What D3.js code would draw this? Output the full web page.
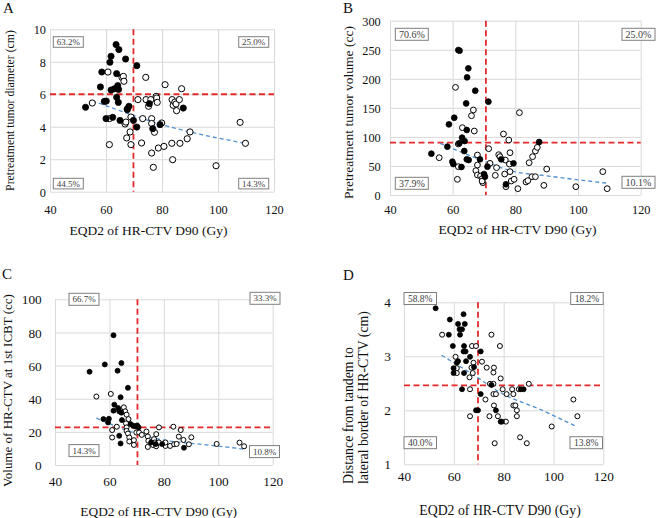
<!DOCTYPE html>
<html>
<head>
<meta charset="utf-8">
<script src="https://cdn.jsdelivr.net/npm/d3@7"></script>
<style>
  html, body { margin: 0; padding: 0; background: #fff; }
  svg { display: block; font-family: "Liberation Serif", "Times New Roman", serif; }
</style>
</head>
<body>
<svg id="chart" width="659" height="518"></svg>
<script>
// ---------------- DATA ----------------
const xTicks = [40, 60, 80, 100, 120];
const xTitle = "EQD2 of HR-CTV D90 (Gy)";

// Panel A: pretreatment tumor diameter (cm)
const aYTicks = [0, 2, 4, 6, 8, 10];
const aYTitle = ["Pretreatment tumor diameter (cm)"];
const aThreshold = [69.8, 6.0];
const aQuadLabels = ["63.2%", "25.0%", "44.5%", "14.3%"];
const aFilled = [[52.7,5.2],[58.0,6.45],[58.5,7.37],[59.4,5.56],[60.1,5.58],[60.0,4.5],[61.4,7.97],[61.8,8.34],[61.8,6.26],[62.4,4.58],[63.0,6.34],[63.6,9.06],[63.8,7.27],[63.8,5.81],[64.2,6.53],[64.5,6.3],[64.4,5.5],[64.6,8.75],[65.0,4.39],[67.0,8.17],[67.6,5.05],[68.2,5.26],[69.8,4.39],[71.0,7.76],[71.0,3.98],[75.5,5.42],[76.7,3.88],[79.3,4.13],[87.6,5.15]];
const aOpen = [[55.1,5.46],[60.7,7.37],[61.2,4.5],[61.2,2.9],[65.7,7.04],[66.2,7.1],[66.4,6.8],[66.8,4.17],[67.1,4.29],[67.4,3.31],[67.6,5.1],[68.6,3.68],[68.9,2.9],[68.9,4.6],[71.4,5.67],[72.7,3.0],[73.1,4.5],[74.2,7.04],[74.3,5.67],[75.2,5.26],[76.0,5.67],[76.3,4.5],[76.3,4.2],[76.3,2.38],[76.9,1.5],[77.3,3.66],[77.9,5.87],[78.1,5.77],[78.3,5.5],[78.7,2.69],[79.9,4.23],[80.7,2.79],[81.1,6.59],[83.5,2.98],[83.6,5.67],[83.8,1.97],[84.0,5.32],[84.6,5.52],[85.0,5.4],[85.2,4.99],[86.2,5.67],[86.4,2.98],[87.0,6.34],[89.0,3.26],[90.0,3.68],[99.3,1.6],[107.9,4.27],[109.8,2.98]];
const aTrend = [[55.1,5.6],[69.8,4.7],[79.5,4.15],[90.0,3.68],[109.8,2.98]];

// Panel B: pretreatment tumor volume (cc)
const bYTicks = [0, 50, 100, 150, 200, 250, 300];
const bYTitle = ["Pretreatment tumor volume (cc)"];
const bThreshold = [70.6, 90];
const bQuadLabels = ["70.6%", "25.0%", "37.9%", "10.1%"];
const bFilled = [[53.2,71.1],[58.3,83.2],[58.8,121.6],[59.9,57.4],[60.2,53.3],[60.5,133],[61.8,249.5],[62.1,88.9],[62.2,248.4],[62.8,48.2],[63.0,98.7],[63.7,75.7],[63.8,92.9],[64.3,157.7],[64.5,111.9],[64.5,61.4],[64.6,202.5],[65.0,218],[65.1,60.2],[67.2,179.5],[68.7,61.4],[70.0,36.1],[70.3,31.5],[71.1,48.8],[71.4,160.6],[75.5,61.4],[77.0,18.4],[79.4,54.5],[87.6,91.2]];
const bOpen = [[55.7,64.2],[60.9,185.3],[61.5,27],[61.8,87.8],[61.8,48.8],[63.1,115.9],[66.0,136.5],[66.6,146.3],[66.9,110.1],[67.4,41.9],[67.9,68.8],[67.9,51.6],[67.9,34.4],[68.9,32.7],[69.4,28.1],[69.6,21.2],[69.4,24],[71.5,79.7],[71.9,54.5],[73.6,33.8],[74.0,47],[74.7,69.4],[75.1,66],[76.2,105],[76.6,36.1],[76.8,60.2],[77.0,14.3],[77.9,94.6],[78.1,53.3],[78.3,72.8],[78.3,40.2],[78.7,24.1],[79.6,27],[80.8,10.9],[81.3,141.7],[83.4,22.4],[84.0,24.7],[84.4,55.6],[85.3,31.5],[85.5,66],[86.4,75.7],[86.4,31.5],[87.0,82],[89.1,16.6],[90.0,44.7],[99.3,14.3],[107.9,40.2],[109.3,10.9]];
const bTrend = [[56.0,88.9],[70.6,57],[78.3,42],[90.0,33],[109.7,20.1]];

// Panel C: volume of HR-CTV at 1st ICBT (cc)
const cYTicks = [0, 20, 40, 60, 80, 100];
const cYTitle = ["Volume of HR-CTV at 1st ICBT (cc)"];
const cThreshold = [70.3, 22.7];
const cQuadLabels = ["66.7%", "33.3%", "14.3%", "10.8%"];
const cFilled = [[52.7,56.3],[57.8,27.7],[58.3,60.7],[59.5,25.7],[59.8,27.9],[61.5,78.3],[61.5,32.8],[61.8,36.4],[63.0,56.9],[63.2,34.4],[63.6,32.4],[63.6,17.6],[64.1,40.9],[64.1,13.0],[64.4,61.5],[64.4,31.6],[64.6,27.1],[66.8,46.6],[67.8,24.7],[68.7,23.7],[69.5,23.3],[70.2,23.9],[70.7,22.7],[75.3,13.6],[77.0,12.6],[79.4,12.6],[87.4,10.4]];
const cOpen = [[55.2,41.3],[60.5,42.9],[61.0,21.1],[61.0,16.6],[62.7,23.1],[65.3,34.8],[65.8,32.4],[66.3,30.4],[67.0,27.7],[66.1,25.1],[66.3,22.7],[66.3,20.6],[66.8,19.0],[67.3,16.6],[67.3,14.2],[69.0,15.0],[69.0,12.1],[69.9,19.6],[70.9,19.6],[71.9,18.2],[73.6,20.2],[74.1,17.2],[74.1,10.9],[74.3,14.6],[76.0,12.1],[76.4,15.6],[76.7,13.6],[77.2,18.6],[77.2,11.3],[78.2,22.7],[78.2,13.6],[80.6,11.5],[80.6,13.6],[82.3,11.5],[83.5,23.1],[83.8,12.5],[84.7,12.7],[85.5,17.1],[86.2,21.1],[87.2,15.1],[89.2,12.5],[90.1,16.7],[99.4,12.7],[107.8,13.5],[109.5,11.3]];
const cTrend = [[55.2,28.3],[65.0,21.7],[80.0,15.0],[95.0,12.3],[109.9,9.5]];

// Panel D: distance from tandem to lateral border of HR-CTV (cm)
const dYTicks = [1, 2, 3, 4];
const dYTitle = ["Distance from tandem to", "lateral border of HR-CTV (cm)"];
const dThreshold = [69.7, 2.46];
const dQuadLabels = ["58.8%", "18.2%", "40.0%", "13.8%"];
const dFilled = [[52.7,3.89],[58.0,3.40],[58.4,3.68],[59.6,3.19],[59.9,2.78],[59.9,2.69],[61.2,2.88],[61.7,3.60],[61.7,2.91],[62.3,3.50],[62.5,3.40],[63.3,3.50],[63.3,2.39],[63.9,3.78],[63.9,3.09],[64.1,3.19],[64.1,2.69],[64.4,3.60],[64.7,3.09],[64.9,2.91],[66.5,2.99],[68.1,2.80],[68.9,2.00],[69.7,2.00],[70.8,3.09],[70.8,2.30],[75.1,2.47],[76.9,2.00],[78.8,1.79],[79.3,1.79],[86.9,2.39],[88.0,2.39]];
const dOpen = [[55.3,3.40],[60.7,2.99],[61.2,2.78],[61.2,2.69],[66.3,2.61],[66.5,2.39],[66.5,1.89],[67.1,2.79],[67.3,3.19],[67.6,2.69],[67.9,2.88],[68.9,3.19],[71.3,2.90],[72.7,2.20],[73.2,2.79],[74.3,1.89],[74.5,2.49],[75.1,3.40],[75.9,2.70],[75.9,2.49],[75.9,2.30],[76.1,2.79],[76.1,2.09],[76.4,1.39],[76.9,2.30],[77.7,1.89],[78.5,3.19],[78.8,2.59],[79.6,2.39],[80.9,1.79],[81.2,2.30],[83.4,2.39],[83.9,2.30],[83.9,2.09],[84.7,2.09],[85.3,2.00],[85.3,1.89],[86.1,2.39],[86.6,1.50],[89.3,1.39],[90.1,2.49],[99.3,1.70],[108.0,2.20],[109.6,1.89]];
const dTrend = [[55.1,3.02],[69.7,2.6],[78.6,2.33],[95.0,2.01],[109.6,1.69]];

// ---------------- LAYOUT ----------------
const panels = [
  { letter: "A", lx: 3, ly: 13, plot: [50, 274, 29.3, 191.7], yDom: [0, 10], yTicks: aYTicks,
    yTitle: aYTitle, thr: aThreshold, quad: aQuadLabels, filled: aFilled, open: aOpen, trend: aTrend,
    tickFs: 12.3, yTickX: 46, xTickY: 209.5, xTitleFs: 13.5, xTitleX: 148.5, xTitleY: 230,
    yTitleFs: 11.8, yTitleX: [10], yTitleY: 110.5, yTitleAnchor: "middle", r: 3.1,
    boxes: [[53.3, 36.7], [238.7, 36.7], [53.3, 178.3], [238.7, 178.3]], boxW: 30, boxH: 10.6, boxFs: 9 },
  { letter: "B", lx: 343, ly: 13, plot: [390, 640.7, 20.7, 195], yDom: [0, 300], yTicks: bYTicks,
    yTitle: bYTitle, thr: bThreshold, quad: bQuadLabels, filled: bFilled, open: bOpen, trend: bTrend,
    tickFs: 12.3, yTickX: 380.7, xTickY: 210, xTitleFs: 13.5, xTitleX: 517.5, xTitleY: 229,
    yTitleFs: 13.5, yTitleX: [348], yTitleY: 112.5, yTitleAnchor: "middle", r: 2.9,
    boxes: [[395.3, 28.3], [622, 28.3], [395.3, 177.3], [622, 176.3]], boxW: 33, boxH: 12, boxFs: 10 },
  { letter: "C", lx: 2, ly: 279, plot: [55, 272.7, 299.3, 465], yDom: [0, 100], yTicks: cYTicks,
    yTitle: cYTitle, thr: cThreshold, quad: cQuadLabels, filled: cFilled, open: cOpen, trend: cTrend,
    tickFs: 13.3, yTickX: 41.7, xTickY: 481.7, xTitleFs: 13.4, xTitleX: 158.7, xTitleY: 511.7,
    yTitleFs: 13, yTitleX: [7.5], yTitleY: 390.5, yTitleAnchor: "middle", r: 2.5,
    boxes: [[69, 293.3], [250, 292.3], [69, 444.6], [249.5, 445.6]], boxW: 30, boxH: 12, boxFs: 9 },
  { letter: "D", lx: 343, ly: 280, plot: [404, 603.3, 302.3, 464.3], yDom: [1, 4], yTicks: dYTicks,
    yTitle: dYTitle, thr: dThreshold, quad: dQuadLabels, filled: dFilled, open: dOpen, trend: dTrend,
    tickFs: 13.3, yTickX: 391, xTickY: 476.7, xTitleFs: 13.8, xTitleX: 500, xTitleY: 510,
    yTitleFs: 13.8, yTitleX: [348.3, 363.5], yTitleY: 484, yTitleAnchor: "start", r: 2.5,
    boxes: [[404, 292.5], [570.7, 292.5], [404, 436.7], [570, 436.7]], boxW: 32.5, boxH: 12, boxFs: 9.5 }
];

const svg = d3.select("#chart");
svg.append("rect").attr("width", 659).attr("height", 518).attr("fill", "#fff");

panels.forEach(p => {
  const [x0, x1, y0, y1] = p.plot;
  const x = d3.scaleLinear().domain([40, 120]).range([x0, x1]);
  const y = d3.scaleLinear().domain(p.yDom).range([y1, y0]);
  const g = svg.append("g");

  // gridlines
  const gx = g.append("g").attr("transform", `translate(0,${y1})`)
    .call(d3.axisBottom(x).tickValues(xTicks).tickSize(-(y1 - y0)).tickFormat(""));
  const gy = g.append("g").attr("transform", `translate(${x0},0)`)
    .call(d3.axisLeft(y).tickValues(p.yTicks).tickSize(-(x1 - x0)).tickFormat(""));
  [gx, gy].forEach(a => {
    a.select(".domain").remove();
    a.selectAll("line").attr("stroke", "#d9d9d9").attr("stroke-width", 1);
  });

  // tick labels via axes
  const ax = g.append("g").attr("transform", `translate(0,${p.xTickY})`)
    .call(d3.axisBottom(x).tickValues(xTicks).tickSize(0).tickPadding(0).tickFormat(d3.format("d")));
  ax.select(".domain").remove();
  ax.selectAll("text").attr("y", 0).attr("dy", "0.35em")
    .attr("font-size", p.tickFs).attr("font-family", "Liberation Serif, serif").attr("fill", "#111");
  const ay = g.append("g").attr("transform", `translate(${p.yTickX},0)`)
    .call(d3.axisLeft(y).tickValues(p.yTicks).tickSize(0).tickPadding(0).tickFormat(d3.format("d")));
  ay.select(".domain").remove();
  ay.selectAll("text").attr("x", 0).attr("dy", "0.35em")
    .attr("font-size", p.tickFs).attr("font-family", "Liberation Serif, serif").attr("fill", "#111");

  // threshold lines
  g.append("line").attr("x1", x(p.thr[0])).attr("x2", x(p.thr[0])).attr("y1", y0).attr("y2", y1)
    .attr("stroke", "#e3292a").attr("stroke-width", 1.8).attr("stroke-dasharray", "6,3.5");
  g.append("line").attr("x1", x0).attr("x2", x1).attr("y1", y(p.thr[1])).attr("y2", y(p.thr[1]))
    .attr("stroke", "#e3292a").attr("stroke-width", 1.8).attr("stroke-dasharray", "6,3.5");

  // trend line
  g.append("path").datum(p.trend)
    .attr("d", d3.line().x(d => x(d[0])).y(d => y(d[1])).curve(d3.curveMonotoneX))
    .attr("fill", "none").attr("stroke", "#4f8fcf").attr("stroke-width", 1.3)
    .attr("stroke-dasharray", "4,3");

  // points
  g.append("g").selectAll("circle").data(p.open).join("circle")
    .attr("cx", d => x(d[0])).attr("cy", d => y(d[1])).attr("r", p.r)
    .attr("fill", "#fff").attr("stroke", "#000").attr("stroke-width", 1);
  g.append("g").selectAll("circle").data(p.filled).join("circle")
    .attr("cx", d => x(d[0])).attr("cy", d => y(d[1])).attr("r", p.r)
    .attr("fill", "#000").attr("stroke", "#000").attr("stroke-width", 0.8);

  // quadrant boxes
  p.boxes.forEach((b, i) => {
    g.append("rect").attr("x", b[0]).attr("y", b[1]).attr("width", p.boxW).attr("height", p.boxH)
      .attr("fill", "#fff").attr("stroke", "#7f7f7f").attr("stroke-width", 1);
    g.append("text").attr("x", b[0] + p.boxW / 2).attr("y", b[1] + p.boxH / 2).attr("dy", "0.35em")
      .attr("text-anchor", "middle").attr("font-size", p.boxFs).attr("fill", "#404040")
      .text(p.quad[i]);
  });

  // axis titles
  g.append("text").attr("x", p.xTitleX).attr("y", p.xTitleY).attr("dy", "0.35em")
    .attr("text-anchor", "middle").attr("font-size", p.xTitleFs).attr("fill", "#111").text(xTitle);
  p.yTitle.forEach((t, i) => {
    g.append("text")
      .attr("transform", `translate(${p.yTitleX[i]},${p.yTitleY}) rotate(-90)`)
      .attr("dy", "0.35em").attr("text-anchor", p.yTitleAnchor)
      .attr("font-size", p.yTitleFs).attr("fill", "#111").text(t);
  });

  // panel letter
  g.append("text").attr("x", p.lx).attr("y", p.ly).attr("font-size", 15).attr("fill", "#111").text(p.letter);
});
</script>
</body>
</html>
